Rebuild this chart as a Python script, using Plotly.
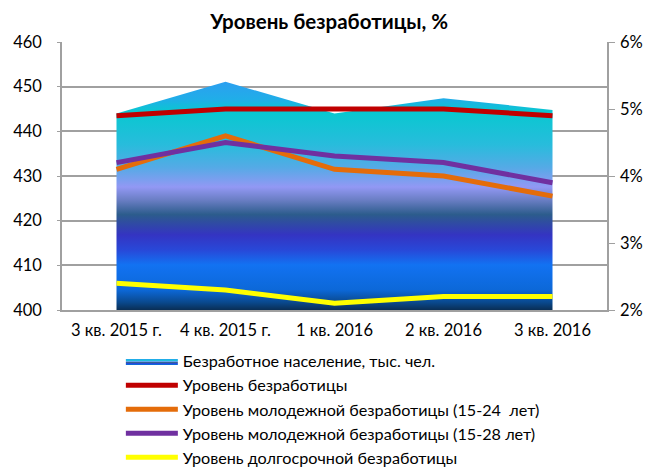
import plotly.graph_objects as go

categories = ["3 кв. 2015 г.", "4 кв. 2015 г.", "1 кв. 2016", "2 кв. 2016", "3 кв. 2016"]
unemployed_thousands = [444.0, 451.1, 444.0, 447.4, 444.8]
unemployment_rate = [4.9, 5.0, 5.0, 5.0, 4.9]
youth_15_24 = [4.1, 4.6, 4.1, 4.0, 3.7]
youth_15_28 = [4.2, 4.5, 4.3, 4.2, 3.9]
long_term = [2.4, 2.3, 2.1, 2.2, 2.2]

series_names = [
    "Безработное население, тыс. чел.",
    "Уровень безработицы",
    "Уровень молодежной безработицы (15-24  лет)",
    "Уровень молодежной безработицы (15-28 лет)",
    "Уровень долгосрочной безработицы",
]

FONT = "Lato, 'Noto Sans', sans-serif"

area_scale = [
    [0.0, "#0a2e55"], [0.035, "#0a4a90"], [0.088, "#0c68d8"], [0.198, "#1272f2"],
    [0.263, "#2848d8"], [0.329, "#3434c2"], [0.418, "#2c5c8c"], [0.482, "#6a7ec4"],
    [0.539, "#9298f4"], [0.624, "#55aae6"], [0.724, "#28bcdc"], [0.869, "#08c8d0"],
    [0.922, "#20aee8"], [1.0, "#2c9ff0"],
]

fig = go.Figure()
fig.add_trace(go.Scatter(
    x=categories, y=unemployed_thousands, name=series_names[0],
    mode="lines", line=dict(width=0, color="#1a6fb0"), fill="tozeroy",
    fillgradient=dict(type="vertical", colorscale=area_scale, start=400, stop=451.1),
    legendgroup="g0", yaxis="y",
))

line_specs = [
    (unemployment_rate, series_names[1], "#c00000"),
    (youth_15_24, series_names[2], "#e46c0a"),
    (youth_15_28, series_names[3], "#7030a0"),
    (long_term, series_names[4], "#ffff00"),
]
for i, (vals, name, col) in enumerate(line_specs):
    fig.add_trace(go.Scatter(
        x=categories, y=vals, name=name, mode="lines",
        line=dict(color=col, width=5), legendgroup=f"g{i+1}", yaxis="y2",
    ))

fig.update_layout(
    width=648, height=473,
    margin=dict(l=62, r=41, t=42, b=163, autoexpand=False),
    paper_bgcolor="white", plot_bgcolor="white",
    font=dict(family=FONT, size=16, color="#000000"),
    title=dict(text="<b>Уровень безработицы, %</b>", x=0.508, xanchor="center",
               y=1 - 22 / 473, yanchor="middle", font=dict(size=20.5, color="#000000")),
    xaxis=dict(type="category", range=[-0.5, 4.5], showgrid=False,
               showline=True, linecolor="#a0a0a0", linewidth=1.5,
               ticks="", tickfont=dict(size=16.5), ticklabelstandoff=4),
    yaxis=dict(range=[400, 460], dtick=10, showgrid=True, gridcolor="#a0a0a0", gridwidth=1.5,
               showline=True, linecolor="#a0a0a0", linewidth=1.5,
               ticks="outside", ticklen=3, tickcolor="#a0a0a0", ticklabelstandoff=12,
               zeroline=False, tickfont=dict(size=16.5)),
    yaxis2=dict(range=[2, 6], dtick=1, overlaying="y", side="right", showgrid=False,
                showline=True, linecolor="#a0a0a0", linewidth=1.5, ticksuffix="%",
                ticks="outside", ticklen=6, tickcolor="#a0a0a0", zeroline=False,
                tickfont=dict(size=16.5), ticklabelstandoff=2),
    showlegend=True,
    legend=dict(x=0.108, xanchor="left", y=-0.127, yanchor="top",
                orientation="v", itemwidth=52, tracegroupgap=0,
                font=dict(size=16.2, color="#000000"), bgcolor="rgba(0,0,0,0)"),
)

fig.write_html("out.html", config={"displayModeBar": False},
               post_script="document.body.style.margin='0';document.body.style.overflow='hidden';")
